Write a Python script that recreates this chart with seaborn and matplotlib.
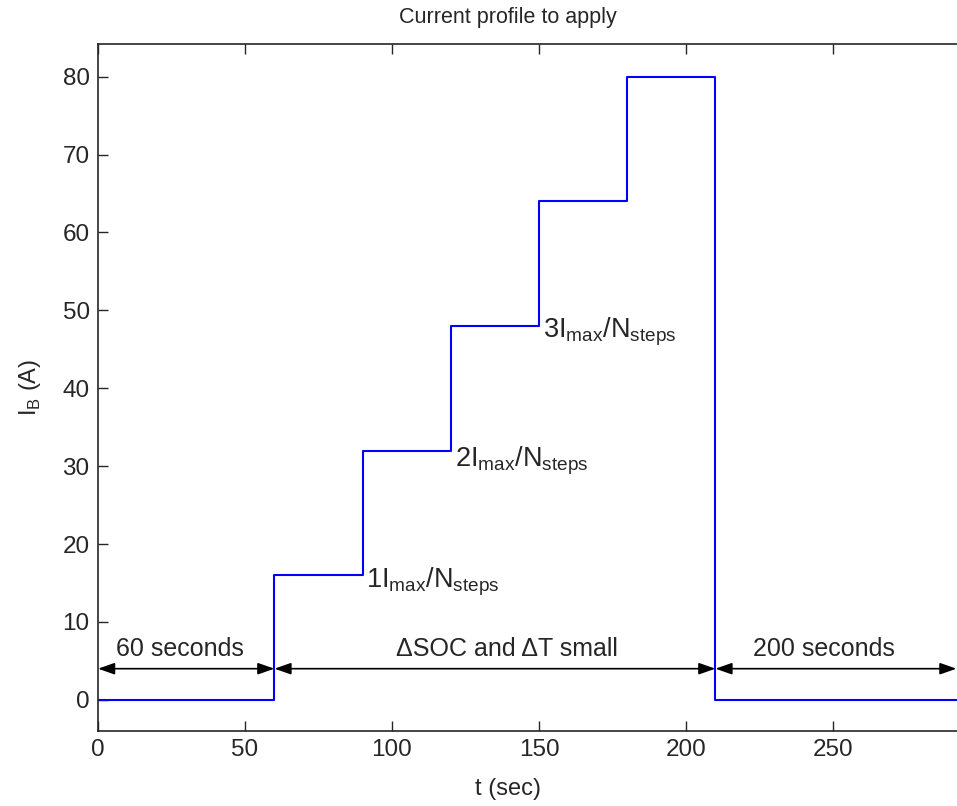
import matplotlib
matplotlib.use("Agg")
import matplotlib.pyplot as plt
import seaborn as sns
import pandas as pd

# Data
times = [0, 60, 90, 120, 150, 180, 210, 295]
currents = [0, 16, 32, 48, 64, 80, 0, 0]
x_ticks = [0, 50, 100, 150, 200, 250]
y_ticks = [0, 10, 20, 30, 40, 50, 60, 70, 80]
spans = [(0, 60, "60 seconds", 28), (60, 210, "\u0394SOC and \u0394T small", 139), (210, 292, "200 seconds", 247)]
step_labels = [(91, 15.2, r"1I$_{\rm max}$/N$_{\rm steps}$"),
               (121.5, 30.7, r"2I$_{\rm max}$/N$_{\rm steps}$"),
               (151.5, 47.3, r"3I$_{\rm max}$/N$_{\rm steps}$")]

sns.set_style("ticks")
plt.rcParams['font.family'] = ['Liberation Sans', 'DejaVu Sans']
plt.rcParams['mathtext.fontset'] = 'custom'
plt.rcParams['mathtext.rm'] = 'Liberation Sans'

fig = plt.figure(figsize=(9.57, 8.06), dpi=100)
ax = fig.add_axes([98/957, 75/806, 870/957, 687/806])

df = pd.DataFrame({"t": times, "I": currents})
sns.lineplot(data=df, x="t", y="I", ax=ax, color=(0, 0, 1), linewidth=1.5,
             drawstyle="steps-post", sort=False)

ax.set_xlim(0, 870/2.94)
ax.set_ylim(-4, 84.2)
ax.set_xticks(x_ticks)
ax.set_yticks(y_ticks)
ax.tick_params(direction="in", length=7, width=1, labelsize=17.5, top=True, right=False,
               colors="#262626", pad=6)
for s in ax.spines.values():
    s.set_linewidth(1.2)
    s.set_color("#262626")

ax.set_xlabel("t (sec)", fontsize=17)
ax.xaxis.set_label_coords((508 - 98) / 870, -0.068)
ax.set_ylabel(r"I$_{\rm B}$ (A)", fontsize=17, labelpad=14)
fig.text(508 / 957, 1 - 18 / 806, "Current profile to apply", ha="center", va="center",
         fontsize=15.5, color="#262626")

for x0, x1, label, xc in spans:
    ax.annotate("", xy=(x1, 4), xytext=(x0, 4),
                arrowprops=dict(arrowstyle="<|-|>,head_length=1.0,head_width=0.35",
                                color="black", lw=1.2, shrinkA=0, shrinkB=0))
    ax.text(xc, 5.0, label, ha="center", va="bottom", fontsize=18)

for x, y, label in step_labels:
    ax.text(x, y, label, ha="left", va="center", fontsize=19.5)

fig.savefig("out.png", dpi=100)
